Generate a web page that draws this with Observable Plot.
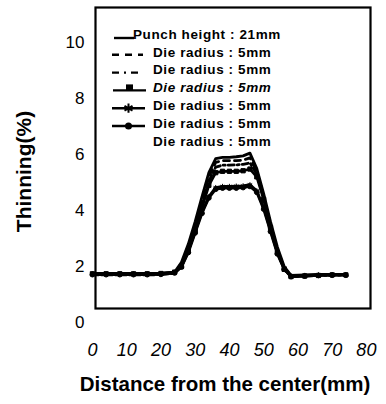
<!DOCTYPE html>
<html>
<head>
<meta charset="utf-8">
<script src="https://cdn.jsdelivr.net/npm/d3@7"></script>
<script src="https://cdn.jsdelivr.net/npm/@observablehq/plot@0.6"></script>
<style>
  body { margin: 0; background: #fff; }
  #chart svg { display: block; }
</style>
</head>
<body>
<div id="chart"></div>
<script>
// ---- data ----
const xTicks = [0, 10, 20, 30, 40, 50, 60, 70, 80];
const yTicks = [0, 2, 4, 6, 8, 10];
const xs = [0, 4, 8, 12, 16, 20, 24, 26, 28, 30, 32, 34, 36, 38, 40, 42, 44, 46, 48, 50, 52, 54, 56, 58, 62, 66, 70, 74];
const punch = [1.75, 1.75, 1.75, 1.75, 1.75, 1.76, 1.8, 2.15, 2.8, 3.6, 4.5, 5.35, 5.85, 5.9, 5.9, 5.92, 5.95, 6.05, 5.5, 4.6, 3.6, 2.7, 2.0, 1.68, 1.7, 1.72, 1.72, 1.72];
const die1 = [1.72, 1.72, 1.72, 1.72, 1.72, 1.73, 1.78, 2.05, 2.65, 3.45, 4.35, 5.2, 5.72, 5.78, 5.78, 5.78, 5.8, 5.88, 5.4, 4.5, 3.5, 2.6, 1.95, 1.66, 1.68, 1.7, 1.7, 1.7];
const die2 = [1.7, 1.7, 1.7, 1.7, 1.7, 1.71, 1.76, 2.0, 2.6, 3.35, 4.2, 5.05, 5.55, 5.62, 5.62, 5.63, 5.65, 5.7, 5.3, 4.45, 3.45, 2.55, 1.92, 1.65, 1.67, 1.68, 1.69, 1.7];
const die3 = [1.74, 1.74, 1.74, 1.74, 1.74, 1.75, 1.8, 2.0, 2.55, 3.3, 4.1, 4.9, 5.35, 5.4, 5.4, 5.4, 5.42, 5.48, 5.2, 4.4, 3.4, 2.5, 1.9, 1.64, 1.66, 1.68, 1.7, 1.7];
const die4 = [1.73, 1.73, 1.73, 1.73, 1.73, 1.74, 1.79, 2.0, 2.55, 3.25, 3.95, 4.5, 4.82, 4.86, 4.86, 4.87, 4.88, 4.92, 4.7, 4.1, 3.3, 2.5, 1.95, 1.66, 1.68, 1.7, 1.71, 1.71];
const die5 = [1.71, 1.71, 1.71, 1.71, 1.71, 1.72, 1.77, 1.98, 2.5, 3.2, 3.9, 4.45, 4.76, 4.8, 4.8, 4.8, 4.82, 4.86, 4.65, 4.05, 3.25, 2.45, 1.9, 1.64, 1.66, 1.68, 1.69, 1.69];
const legendLabels = ["Punch height : 21mm", "Die radius : 5mm", "Die radius : 5mm", "Die radius : 5mm", "Die radius : 5mm", "Die radius : 5mm", "Die radius : 5mm"];
const xTitle = "Distance from the center(mm)";
const yTitle = "Thinning(%)";

const seriesDefs = [
  {name: "punch", values: punch, dash: null, symbol: null},
  {name: "die1", values: die1, dash: "6,5", symbol: null},
  {name: "die2", values: die2, dash: "6,3,2,3", symbol: null},
  {name: "die3", values: die3, dash: null, symbol: "square"},
  {name: "die4", values: die4, dash: null, symbol: "asterisk"},
  {name: "die5", values: die5, dash: null, symbol: "circle"}
];

const seriesMarks = [];
for (const s of seriesDefs) {
  const rows = xs.map((x, i) => ({x, y: s.values[i]}));
  seriesMarks.push(Plot.line(rows, {x: "x", y: "y", stroke: "black", strokeWidth: 2.8, strokeDasharray: s.dash || undefined}));
  if (s.symbol) {
    seriesMarks.push(Plot.dot(rows, {x: "x", y: "y", symbol: s.symbol, r: 2.4, fill: "black", stroke: "black", strokeWidth: 1}));
  }
}

function legendMark(index, scales, values, dimensions) {
  const ml = dimensions.marginLeft;
  const mt = dimensions.marginTop;
  const g = d3.create("svg:g").attr("text-anchor", "start");
  const rowY = (i) => mt + 27 + i * 17.8;
  legendLabels.forEach((lab, i) => {
    g.append("text")
      .attr("x", ml + (i === 0 ? 38 : 58))
      .attr("y", rowY(i))
      .attr("dy", "0.35em")
      .attr("text-anchor", "start")
      .attr("font-size", 13.5)
      .attr("font-weight", "bold")
      .attr("letter-spacing", "0.6")
      .attr("font-style", i === 3 ? "italic" : "normal")
      .attr("fill", "black")
      .text(lab);
  });
  const sym = [
    {y: rowY(0) + 4, x1: ml + 19, x2: ml + 39, dash: null, m: null},
    {y: rowY(1) + 3, x1: ml + 17, x2: ml + 48, dash: "7,6", m: null},
    {y: rowY(2) + 3, x1: ml + 17, x2: ml + 48, dash: "7,5,2,5", m: null},
    {y: rowY(3) + 3, x1: ml + 18, x2: ml + 51, dash: null, m: "square"},
    {y: rowY(4) + 3, x1: ml + 17, x2: ml + 50, dash: null, m: "asterisk"},
    {y: rowY(5) + 3, x1: ml + 17, x2: ml + 50, dash: null, m: "circle"}
  ];
  sym.forEach(s => {
    const l = g.append("line").attr("x1", s.x1).attr("x2", s.x2).attr("y1", s.y).attr("y2", s.y)
      .attr("stroke", "black").attr("stroke-width", 2.4);
    if (s.dash) l.attr("stroke-dasharray", s.dash);
    const cx = (s.x1 + s.x2) / 2;
    if (s.m === "square") g.append("rect").attr("x", cx - 3.5).attr("y", s.y - 6).attr("width", 7).attr("height", 6).attr("fill", "black");
    if (s.m === "asterisk") g.append("path").attr("d", d3.symbol(d3.symbolAsterisk, 60)()).attr("transform", `translate(${cx},${s.y})`).attr("stroke", "black").attr("stroke-width", 2);
    if (s.m === "circle") g.append("circle").attr("cx", cx).attr("cy", s.y).attr("r", 3.5).attr("fill", "black");
  });
  return g.node();
}

const chart = Plot.plot({
  width: 386,
  height: 404,
  marginTop: 7,
  marginBottom: 96,
  marginLeft: 95,
  marginRight: 16,
  x: {domain: [0.9, 81.2], axis: null},
  y: {domain: [0.5, 11.25], axis: null},
  style: {fontFamily: "'Liberation Sans', Arial, sans-serif"},
  marks: [
    ...seriesMarks,
    Plot.text(yTicks, {y: d => d, frameAnchor: "left", dx: -11, textAnchor: "end", text: d => String(d), fontSize: 17, fill: "black"}),
    Plot.text(xTicks, {x: d => d, frameAnchor: "bottom", dy: 47, textAnchor: "middle", text: d => String(d), fontSize: 18, fontStyle: "italic", fill: "black"}),
    Plot.text([xTitle], {frameAnchor: "bottom", dy: 82, dx: -8, textAnchor: "middle", text: d => d, fontSize: 20.5, fontWeight: "bold", fill: "black"}),
    Plot.text([yTitle], {frameAnchor: "left", dx: -71, dy: 13.5, textAnchor: "middle", rotate: -90, text: d => d, fontSize: 21, fontWeight: "bold", fill: "black"}),
    legendMark,
    Plot.frame({stroke: "black", strokeWidth: 2.2})
  ]
});
document.getElementById("chart").appendChild(chart);
</script>
</body>
</html>
